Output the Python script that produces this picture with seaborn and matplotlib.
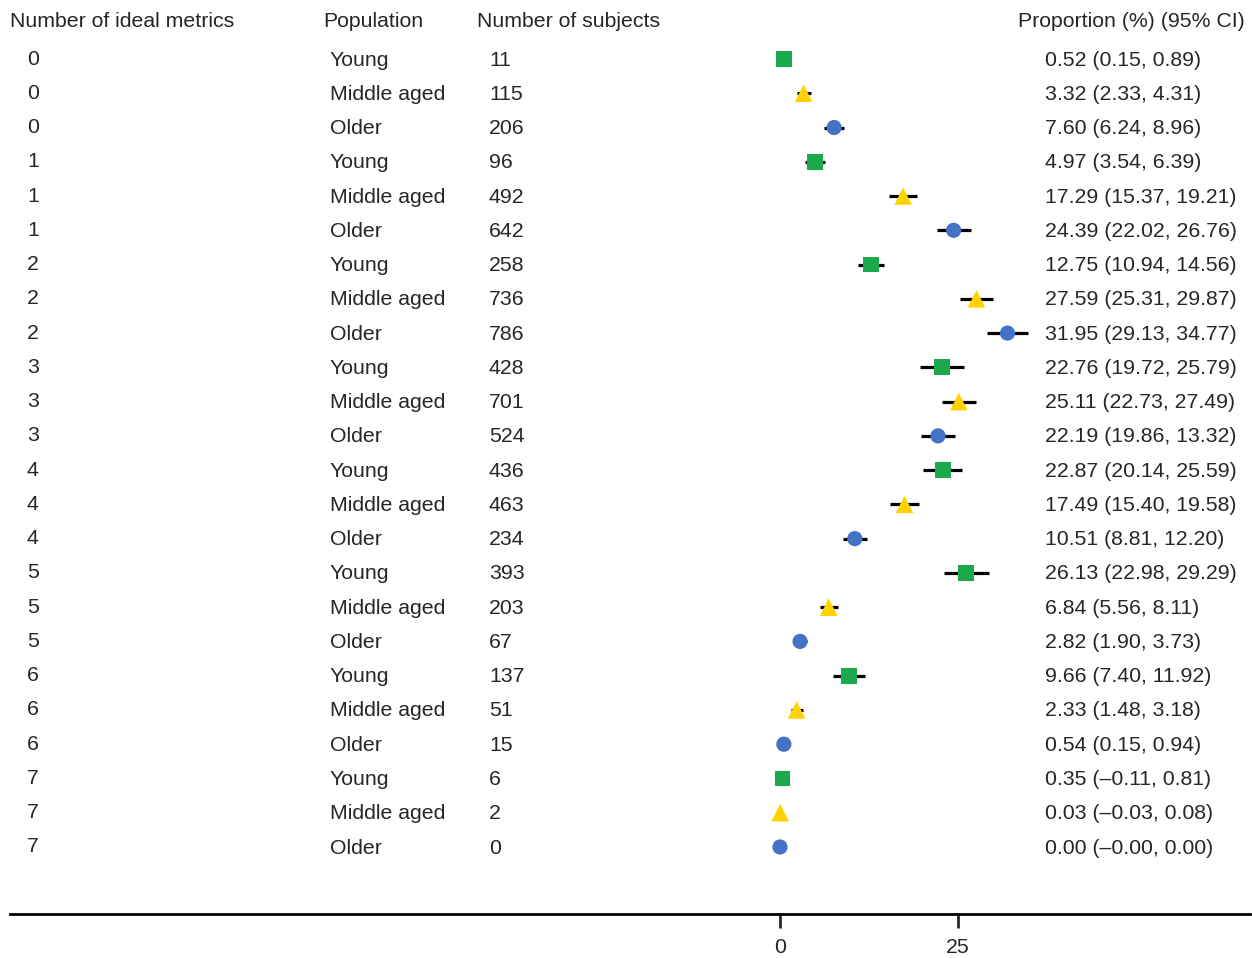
import matplotlib
matplotlib.use("Agg")
import matplotlib.pyplot as plt
import seaborn as sns
import pandas as pd
import numpy as np

metrics = [0, 0, 0, 1, 1, 1, 2, 2, 2, 3, 3, 3, 4, 4, 4, 5, 5, 5, 6, 6, 6, 7, 7, 7]
population = ["Young", "Middle aged", "Older"] * 8
subjects = [11, 115, 206, 96, 492, 642, 258, 736, 786, 428, 701, 524,
            436, 463, 234, 393, 203, 67, 137, 51, 15, 6, 2, 0]
proportion = [0.52, 3.32, 7.60, 4.97, 17.29, 24.39, 12.75, 27.59, 31.95, 22.76, 25.11, 22.19,
              22.87, 17.49, 10.51, 26.13, 6.84, 2.82, 9.66, 2.33, 0.54, 0.35, 0.03, 0.00]
ci_low = [0.15, 2.33, 6.24, 3.54, 15.37, 22.02, 10.94, 25.31, 29.13, 19.72, 22.73, 19.86,
          20.14, 15.40, 8.81, 22.98, 5.56, 1.90, 7.40, 1.48, 0.15, -0.11, -0.03, -0.00]
ci_high = [0.89, 4.31, 8.96, 6.39, 19.21, 26.76, 14.56, 29.87, 34.77, 25.79, 27.49, 24.52,
           25.59, 19.58, 12.20, 29.29, 8.11, 3.73, 11.92, 3.18, 0.94, 0.81, 0.08, 0.00]
ci_text = ["0.52 (0.15, 0.89)", "3.32 (2.33, 4.31)", "7.60 (6.24, 8.96)",
           "4.97 (3.54, 6.39)", "17.29 (15.37, 19.21)", "24.39 (22.02, 26.76)",
           "12.75 (10.94, 14.56)", "27.59 (25.31, 29.87)", "31.95 (29.13, 34.77)",
           "22.76 (19.72, 25.79)", "25.11 (22.73, 27.49)", "22.19 (19.86, 13.32)",
           "22.87 (20.14, 25.59)", "17.49 (15.40, 19.58)", "10.51 (8.81, 12.20)",
           "26.13 (22.98, 29.29)", "6.84 (5.56, 8.11)", "2.82 (1.90, 3.73)",
           "9.66 (7.40, 11.92)", "2.33 (1.48, 3.18)", "0.54 (0.15, 0.94)",
           "0.35 (\u20130.11, 0.81)", "0.03 (\u20130.03, 0.08)", "0.00 (\u20130.00, 0.00)"]
headers = ["Number of ideal metrics", "Population", "Number of subjects", "Proportion (%) (95% CI)"]
x_ticks = [0, 25]

df = pd.DataFrame({"row": np.arange(len(metrics)), "metrics": metrics, "population": population,
                   "subjects": subjects, "prop": proportion, "lo": ci_low, "hi": ci_high})

sns.set_style("white")
plt.rcParams["font.family"] = ["Liberation Sans", "DejaVu Sans"]

W, H = 1252, 958
fig = plt.figure(figsize=(W / 100, H / 100), dpi=100)
ax = fig.add_axes([10 / W, (H - 914) / H, 1240 / W, 914 / H])

px_per_unit = 178 / 25.0
def xd(px):
    return (px - 780) / px_per_unit

row_px = 34.26
def yd(py):
    return (py - 59) / row_px

ax.set_xlim(xd(10), xd(1250))
ax.set_ylim(yd(914), yd(0))

ax.hlines(df["row"], df["lo"], df["hi"], color="black", lw=2.3, zorder=2)
palette = {"Young": "#1AAA4B", "Middle aged": "#FFD200", "Older": "#4472C4"}
markers = {"Young": "s", "Middle aged": "^", "Older": "o"}
sizes = {"Young": 130, "Middle aged": 160, "Older": 120}
for pop in ["Young", "Middle aged", "Older"]:
    sub = df[df["population"] == pop]
    sns.scatterplot(data=sub, x="prop", y="row", color=palette[pop], marker=markers[pop],
                    s=sizes[pop], edgecolor="none", linewidth=0, ax=ax, zorder=3, legend=False)

fs = 15.3
hy = yd(21)
ax.text(xd(10), hy, headers[0], fontsize=fs, va="center", ha="left")
ax.text(xd(323), hy, headers[1], fontsize=fs, va="center", ha="left")
ax.text(xd(477), hy, headers[2], fontsize=fs, va="center", ha="left")
ax.text(xd(1245), hy, headers[3], fontsize=fs, va="center", ha="right")
for i in range(len(metrics)):
    ax.text(xd(27), i + 0.0, str(metrics[i]), fontsize=fs, va="center", ha="left")
    ax.text(xd(330), i + 0.03, population[i], fontsize=fs, va="center", ha="left")
    ax.text(xd(489), i + 0.03, str(subjects[i]), fontsize=fs, va="center", ha="left")
    ax.text(xd(1045), i + 0.03, ci_text[i], fontsize=fs, va="center", ha="left")

for s in ["top", "right", "left"]:
    ax.spines[s].set_visible(False)
ax.spines["bottom"].set_linewidth(2)
ax.spines["bottom"].set_color("black")
ax.set_yticks([])
ax.set_xticks(x_ticks)
ax.set_xticklabels([str(t) for t in x_ticks])
ax.tick_params(axis="x", direction="out", length=10, width=2, labelsize=fs, pad=7, bottom=True)
ax.set_xlabel("")
ax.set_ylabel("")

fig.savefig("out.png", dpi=100)
